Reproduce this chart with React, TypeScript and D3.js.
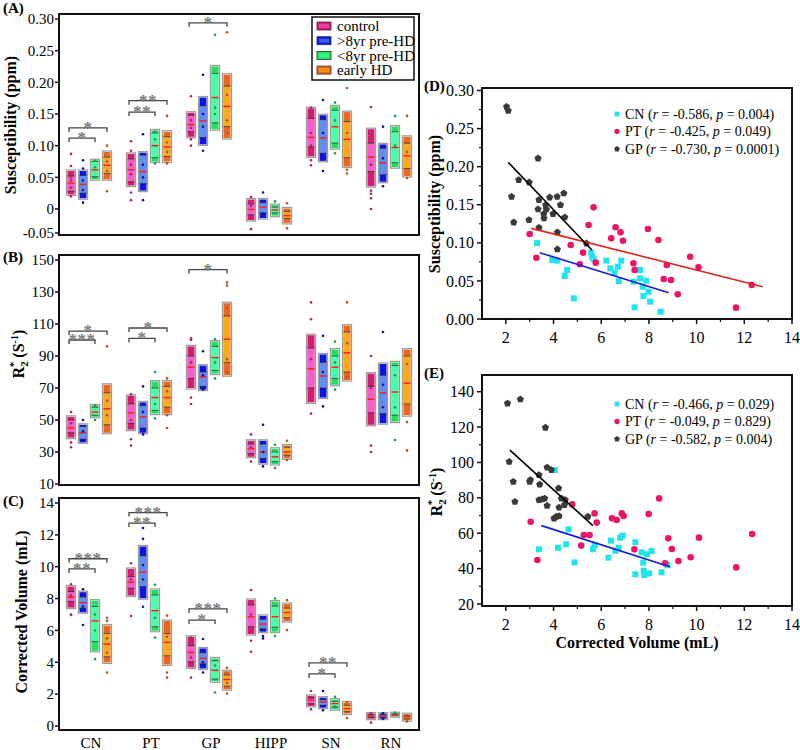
import React from "react";
import * as d3 from "d3";

// ---------- categories & groups ----------
const regions = ["CN", "PT", "GP", "HIPP", "SN", "RN"];
const groups = ["control", ">8yr pre-HD", "<8yr pre-HD", "early HD"];
const groupDark = ["#d81b72", "#0b14e0", "#1ee060", "#ee661c"];
const groupLight = ["#ff58cf", "#5e90f4", "#45ffaa", "#ffaa12"];
const groupDot = ["#a8285f", "#14148e", "#1f9e4c", "#b8541c"];

// ---------- tick values ----------
const suscTicks = [-0.05, 0, 0.05, 0.1, 0.15, 0.2, 0.25, 0.3];
const r2Ticks = [10, 30, 50, 70, 90, 110, 130, 150];
const volTicks = [0, 2, 4, 6, 8, 10, 12, 14];
const scatterXTicks = [2, 4, 6, 8, 10, 12, 14];
const dYTicks = [0, 0.05, 0.1, 0.15, 0.2, 0.25, 0.3];
const eYTicks = [20, 40, 60, 80, 100, 120, 140];

// ---------- box stats: [low, q1, median, q3, high] per region, per group ----------
const suscBoxes = [
  [[0.023, 0.028, 0.041, 0.052, 0.06], [0.017, 0.025, 0.039, 0.053, 0.06], [0.047, 0.051, 0.062, 0.075, 0.077], [0.047, 0.056, 0.069, 0.082, 0.09]],
  [[0.037, 0.043, 0.062, 0.079, 0.087], [0.029, 0.04, 0.059, 0.085, 0.089], [0.075, 0.081, 0.1, 0.12, 0.124], [0.075, 0.083, 0.098, 0.114, 0.122]],
  [[0.114, 0.122, 0.133, 0.148, 0.152], [0.102, 0.113, 0.139, 0.163, 0.176], [0.126, 0.136, 0.176, 0.214, 0.225], [0.112, 0.13, 0.162, 0.194, 0.212]],
  [[-0.023, -0.012, -0.001, 0.008, 0.015], [-0.019, -0.008, 0.003, 0.01, 0.015], [-0.014, -0.008, -0.002, 0.003, 0.006], [-0.029, -0.02, -0.014, -0.005, 0.001]],
  [[0.083, 0.098, 0.113, 0.143, 0.159], [0.076, 0.088, 0.112, 0.141, 0.148], [0.096, 0.104, 0.13, 0.156, 0.162], [0.067, 0.081, 0.11, 0.138, 0.153]],
  [[0.036, 0.059, 0.082, 0.104, 0.126], [0.043, 0.054, 0.073, 0.096, 0.102], [0.066, 0.073, 0.097, 0.122, 0.13], [0.052, 0.064, 0.084, 0.104, 0.114]],
];
const suscPoints = [
  [[0.087, 0.068, 0.02, 0.034, 0.045, 0.05], [0.077, 0.064, 0.01, 0.03, 0.045], [0.076, 0.05, 0.066], [0.1, 0.028, 0.06, 0.075]],
  [[0.107, 0.092, 0.026, 0.014, 0.055, 0.07], [0.118, 0.014, 0.05, 0.07], [0.072, 0.122, 0.11], [0.147, 0.072, 0.09, 0.105]],
  [[0.178, 0.11, 0.1, 0.14, 0.128], [0.212, 0.092, 0.15, 0.13], [0.275, 0.16, 0.15], [0.279, 0.14, 0.12, 0.18]],
  [[0.019, -0.042, 0.005], [0.026, -0.01], [0.012], [0.009, -0.04]],
  [[0.16, 0.153, 0.077, 0.069, 0.12, 0.1], [0.172, 0.06, 0.12], [0.168, 0.088, 0.14], [0.191, 0.062, 0.056, 0.12]],
  [[0.161, 0.029, 0.024, 0.017, 0.0, 0.07], [0.13, 0.036, 0.08], [0.147, 0.1], [0.147, 0.049, 0.09]],
];

const r2Boxes = [
  [[39, 42, 45, 50, 52], [36, 38, 42, 46, 47], [52, 53, 55, 58, 59], [42, 47, 57, 67, 72]],
  [[44, 48, 54.5, 60, 65], [42, 45, 52, 59, 61], [54, 56, 64, 70, 74], [54, 58, 64, 71, 74]],
  [[70, 76, 83, 90, 96], [69, 71, 77, 80, 84], [79, 81, 89, 96, 99], [78, 86, 100.5, 115, 123]],
  [[27, 29, 32, 35, 37], [23, 26, 30, 35, 37], [22.5, 24, 27, 30, 32], [26, 28, 30, 33, 34]],
  [[61, 70, 82, 95, 103], [64, 70, 77.5, 86, 91], [72, 76, 83, 90, 94], [75, 80, 92, 105, 109]],
  [[47, 54.5, 63, 71, 79], [48, 54, 67, 78, 85], [49, 53, 67.5, 84, 86], [53, 60, 73, 90, 94]],
];
const r2Points = [
  [[55, 33, 36, 48], [50, 37, 43], [50, 59], [96, 62, 53]],
  [[66, 38, 34, 50], [71, 41, 55], [80, 51, 60], [76, 45, 53, 68]],
  [[100, 101, 64, 60, 86], [93, 69, 78], [100.5, 76, 86], [136, 134, 120, 88, 80]],
  [[41, 24, 33], [47, 21, 30], [34.5, 20], [37, 25]],
  [[123.5, 113, 54, 88], [102.6, 58.5, 80], [99, 69, 86], [123.5, 77, 98]],
  [[90, 34, 30, 70], [105, 58, 72], [37.5, 58, 78], [48.7, 31, 85]],
];

const volBoxes = [
  [[7.43, 7.81, 8.08, 8.44, 8.75], [7.14, 7.4, 7.74, 8.1, 8.4], [4.72, 5.3, 6.6, 7.5, 7.87], [3.99, 4.34, 5.14, 5.81, 6.3]],
  [[8.19, 8.65, 9.03, 9.38, 9.86], [8.02, 8.75, 9.65, 10.68, 11.27], [5.98, 6.23, 7.24, 8.23, 8.54], [3.86, 4.41, 5.25, 5.8, 6.59]],
  [[3.67, 4.03, 4.62, 5.04, 5.6], [3.61, 3.9, 4.24, 4.6, 4.87], [2.81, 2.95, 3.5, 4.1, 4.24], [2.31, 2.5, 2.92, 3.2, 3.44]],
  [[5.77, 6.23, 6.86, 7.6, 7.91], [5.92, 6.1, 6.4, 6.7, 6.91], [5.92, 6.2, 6.86, 7.53, 7.81], [6.59, 6.8, 7.12, 7.4, 7.66]],
  [[1.26, 1.4, 1.62, 1.75, 1.89], [1.15, 1.3, 1.51, 1.65, 1.78], [1.05, 1.2, 1.41, 1.55, 1.66], [0.78, 0.9, 1.09, 1.3, 1.47]],
  [[0.46, 0.52, 0.61, 0.7, 0.78], [0.46, 0.52, 0.61, 0.7, 0.78], [0.61, 0.65, 0.71, 0.76, 0.8], [0.36, 0.45, 0.57, 0.65, 0.74]],
];
const volPoints = [
  [[8.9, 6.97, 7.0, 8.2], [8.58, 6.34, 7.5], [4.2, 7.0, 6.0], [6.8, 6.6, 3.36, 5.5, 4.6]],
  [[10.22, 6.91, 9.2], [12.43, 11.75, 7.49, 9.2, 10.1], [8.86, 5.56, 6.8], [6.93, 3.36, 3.04, 5.6]],
  [[5.55, 3.04, 4.3], [5.46, 3.36, 4.0], [2.1, 3.8], [3.65, 2.04, 2.7]],
  [[8.54, 5.35, 4.66, 7.0], [5.65, 5.5], [8.0, 5.65], [7.9, 6.02]],
  [[2.2, 1.05], [2.2, 0.99], [1.83, 1.2], [0.5, 1.5]],
  [[0.21, 0.8], [0.8, 0.45], [0.85], [0.29]],
];

// significance brackets: [regionIndex, toGroupIndex, yValue, stars] (from control)
const suscSig = [[0, 2, 0.112, "*"], [0, 3, 0.128, "*"], [1, 2, 0.153, "**"], [1, 3, 0.171, "**"], [2, 3, 0.294, "*"]];
const r2Sig = [[0, 2, 100, "***"], [0, 3, 105.6, "*"], [1, 2, 101, "*"], [1, 3, 107.5, "*"], [2, 3, 144, "*"]];
const volSig = [[0, 2, 9.86, "**"], [0, 3, 10.5, "***"], [1, 2, 12.74, "**"], [1, 3, 13.4, "***"], [2, 2, 6.65, "*"], [2, 3, 7.35, "***"], [4, 2, 3.27, "*"], [4, 3, 3.96, "**"]];

// ---------- scatter data ----------
const scatterNames = ["CN", "PT", "GP"];
const scatterColors = ["#1ee4ee", "#ec1467", "#3a3a3a"];
const fitColors = ["#1a1ad6", "#e2231a", "#000000"];
const dR = ["-0.586", "-0.425", "-0.730"];
const dP = ["0.004", "0.049", "0.0001"];
const eR = ["-0.466", "-0.049", "-0.582"];
const eP = ["0.029", "0.829", "0.004"];

const dCN = [[3.31, 0.0996], [3.95, 0.0775], [4.15, 0.0766], [4.47, 0.0565], [4.57, 0.0643], [4.85, 0.0271], [5.58, 0.0871], [5.62, 0.0818], [5.68, 0.0788], [6.21, 0.0766], [6.38, 0.0665], [6.56, 0.0608], [6.7, 0.0687], [6.84, 0.0766], [6.74, 0.0499], [7.36, 0.049], [7.4, 0.0153], [7.63, 0.0643], [7.63, 0.0534], [7.74, 0.0424], [7.77, 0.0302], [7.89, 0.0503], [7.98, 0.0359], [8.05, 0.0228], [8.49, 0.0096]];
const dPT = [[3.0, 0.1116], [3.28, 0.0805], [4.72, 0.0972], [5.1, 0.0718], [5.24, 0.0871], [5.47, 0.1234], [5.68, 0.1466], [5.77, 0.074], [6.42, 0.1059], [6.6, 0.1204], [6.81, 0.1138], [6.91, 0.1028], [7.35, 0.0731], [7.4, 0.0643], [7.96, 0.1182], [8.4, 0.1037], [8.62, 0.0525], [8.75, 0.0709], [8.93, 0.0512], [9.21, 0.0324], [9.73, 0.0818], [10.08, 0.0678], [11.65, 0.0149], [12.31, 0.0446]];
const dGP = [[2.03, 0.2788], [2.1, 0.2735], [2.54, 0.1825], [2.24, 0.1606], [2.33, 0.1269], [2.98, 0.1794], [2.97, 0.13], [3.35, 0.2109], [3.39, 0.1562], [3.35, 0.144], [3.39, 0.1199], [3.59, 0.1379], [3.6, 0.1322], [3.67, 0.1497], [3.7, 0.144], [3.84, 0.1597], [3.98, 0.1379], [4.15, 0.1606], [4.16, 0.1138], [4.16, 0.0915], [4.29, 0.1497], [4.43, 0.165], [4.47, 0.1335], [5.38, 0.0993]];
const dFits = [[3.42, 0.0871, 8.83, 0.0346], [3.07, 0.119, 12.77, 0.0424], [2.1, 0.2057, 5.61, 0.0906]];

const eCN = [[4.05, 95.7], [3.39, 50.9], [4.19, 51.8], [4.53, 53.7], [4.63, 62.2], [4.88, 43.5], [5.65, 51.1], [5.72, 53.0], [6.3, 46.2], [6.41, 55.8], [6.59, 50.1], [6.73, 51.8], [6.79, 57.5], [6.9, 58.6], [7.43, 54.9], [7.43, 36.8], [7.69, 49.2], [7.76, 43.4], [7.78, 38.8], [7.81, 36.4], [7.92, 48.1], [8.01, 37.3], [8.11, 50.0], [8.53, 37.9], [8.78, 42.0]];
const ePT = [[3.04, 66.5], [3.32, 44.9], [4.78, 76.3], [5.16, 53.0], [5.27, 59.0], [5.51, 59.0], [5.72, 71.2], [5.81, 66.0], [6.45, 68.4], [6.65, 67.5], [6.86, 71.2], [6.94, 69.7], [7.39, 50.9], [7.99, 70.9], [8.43, 79.7], [8.68, 43.0], [8.81, 57.1], [8.96, 51.1], [9.24, 44.3], [9.75, 46.4], [10.1, 57.5], [11.66, 40.7], [12.33, 59.6]];
const eGP = [[2.07, 133.4], [2.61, 135.7], [3.66, 119.7], [2.14, 100.4], [2.31, 89.1], [2.38, 77.8], [3.0, 89.1], [3.03, 90.1], [3.39, 92.9], [3.42, 87.6], [3.39, 78.8], [3.53, 79.2], [3.63, 79.7], [3.73, 75.6], [3.73, 97.2], [3.91, 95.7], [4.21, 85.4], [4.23, 74.6], [4.33, 79.7], [4.49, 78.8], [4.46, 76.0], [4.02, 68.4], [4.12, 69.4], [4.23, 69.7], [5.44, 69.4]];
const eFits = [[3.49, 64.3, 8.88, 41.1], null, [2.17, 107.0, 5.65, 64.3]];

// ---------- layout ----------
const FONT = "Liberation Serif";
const FL = 59;
const FR = 419;
const TS = { fontFamily: FONT } as const;

function R2Title({ x, y }: { x: number; y: number }) {
  return (
    <text transform={`translate(${x},${y}) rotate(-90)`} textAnchor="middle" style={TS} fontWeight="bold" fontSize={16}>
      R<tspan dy={4} fontSize={11}>2</tspan>
      <tspan dx={-6} dy={-11} fontSize={11}>*</tspan>
      <tspan dy={7}> (S</tspan>
      <tspan dy={-6} fontSize={10}>-1</tspan>
      <tspan dy={6}>)</tspan>
    </text>
  );
}

function BoxPanel(props: any) {
  const { y, top, bottom, ticks, fmt, boxes, points, sig, title, titleX, titleY, label, labelY, showCats } = props;
  const x = d3.scaleBand().domain(regions).range([FL, FR]);
  const off = d3.scalePoint().domain(groups).range([-18, 18]);
  const bw = 7;
  const cxOf = (ri: number, gi: number) => (x(regions[ri]) as number) + x.bandwidth() / 2 + (off(groups[gi]) as number);
  return (
    <g>
      {boxes.map((reg: number[][], ri: number) =>
        reg.map((b: number[], gi: number) => {
          const cx = cxOf(ri, gi);
          const [lo, q1, md, q3, hi] = b;
          return (
            <g key={`${ri}-${gi}`}>
              <rect x={cx - bw / 2 - 1} y={y(hi) - 1} width={bw + 2} height={y(lo) - y(hi) + 2} fill="none" stroke="#8a8a8a" strokeWidth={1.2} opacity={0.85} />
              <rect x={cx - bw / 2} y={y(hi)} width={bw} height={y(lo) - y(hi)} fill={groupDark[gi]} />
              <rect x={cx - bw / 2 + 0.5} y={y(q3)} width={bw - 1} height={y(q1) - y(q3)} fill={groupLight[gi]} />
              <line x1={cx - bw / 2} x2={cx + bw / 2} y1={y(q1)} y2={y(q1)} stroke="#222" strokeWidth={0.9} opacity={0.75} />
              <line x1={cx - bw / 2} x2={cx + bw / 2} y1={y(q3)} y2={y(q3)} stroke="#222" strokeWidth={0.9} opacity={0.75} />
              <line x1={cx - bw / 2} x2={cx + bw / 2} y1={y(md)} y2={y(md)} stroke="#ff1a1a" strokeWidth={1.4} />
              {points[ri][gi].map((v: number, k: number) => (
                <circle key={k} cx={cx} cy={y(v)} r={1.3} fill={groupDot[gi]} />
              ))}
            </g>
          );
        })
      )}
      {sig.map((s: any, i: number) => {
        const [ri, gi, v, stars] = s;
        const x1 = cxOf(ri, 0) - 2;
        const x2 = cxOf(ri, gi);
        const yy = y(v);
        return (
          <g key={i}>
            <path d={`M${x1},${yy + 4}V${yy}H${x2}V${yy + 4}`} fill="none" stroke="#444" strokeWidth={1.3} />
            <text x={(x1 + x2) / 2} y={yy + 5} textAnchor="middle" style={TS} fontSize={17} fontWeight="bold" fill="#7a7a7a" letterSpacing={0.5}>
              {stars}
            </text>
          </g>
        );
      })}
      <rect x={FL} y={top} width={FR - FL} height={bottom - top} fill="none" stroke="#111" strokeWidth={2} />
      {ticks.map((t: number) => (
        <g key={t}>
          <line x1={FL - 4} x2={FL} y1={y(t)} y2={y(t)} stroke="#111" strokeWidth={1.5} />
          <text x={FL - 5} y={y(t)} dy="0.35em" textAnchor="end" style={TS} fontSize={15}>
            {fmt(t)}
          </text>
        </g>
      ))}
      {typeof title === "string" ? (
        <text transform={`translate(${titleX},${titleY}) rotate(-90)`} textAnchor="middle" style={TS} fontWeight="bold" fontSize={16}>
          {title}
        </text>
      ) : (
        title
      )}
      <text x={3} y={labelY} style={TS} fontWeight="bold" fontSize={15}>
        {label}
      </text>
      {showCats &&
        regions.map((r) => (
          <text key={r} x={(x(r) as number) + x.bandwidth() / 2 + 2} y={743} dy="0.3em" textAnchor="middle" style={TS} fontSize={15}>
            {r}
          </text>
        ))}
    </g>
  );
}

function pentagon(cx: number, cy: number, r: number) {
  const pts = d3.range(5).map((i) => {
    const a = -Math.PI / 2 + (i * 2 * Math.PI) / 5;
    return [cx + r * Math.cos(a), cy + r * Math.sin(a)];
  });
  return "M" + pts.map((p) => p.join(",")).join("L") + "Z";
}

function Marker({ kind, x, y, s }: { kind: number; x: number; y: number; s: number }) {
  if (kind === 0) return <rect x={x - s} y={y - s} width={2 * s} height={2 * s} fill={scatterColors[0]} />;
  if (kind === 1) return <circle cx={x} cy={y} r={s * 1.1} fill={scatterColors[1]} />;
  return <path d={pentagon(x, y, s * 1.25)} fill={scatterColors[2]} />;
}

function ScatterPanel(props: any) {
  const { top, bottom, yDomain, yRange, yTicks, yMinor, yFmt, series, fits, rs, ps, label, labelY, legendY, title, xTitle } = props;
  const left = 482;
  const right = 792;
  const x = d3.scaleLinear().domain([1, 14]).range([left, right]);
  const y = d3.scaleLinear().domain(yDomain).range(yRange);
  const xMinor = [3, 5, 7, 9, 11, 13];
  return (
    <g>
      {series.map((pts: number[][], si: number) =>
        pts.map((p: number[], k: number) => <Marker key={`${si}-${k}`} kind={si} x={x(p[0])} y={y(p[1])} s={3} />)
      )}
      {fits.map((f: number[] | null, i: number) =>
        f ? <line key={i} x1={x(f[0])} y1={y(f[1])} x2={x(f[2])} y2={y(f[3])} stroke={fitColors[i]} strokeWidth={1.6} /> : null
      )}
      <rect x={left} y={top} width={right - left} height={bottom - top} fill="none" stroke="#111" strokeWidth={2} />
      {scatterXTicks.map((t) => (
        <g key={t}>
          <line x1={x(t)} x2={x(t)} y1={bottom} y2={bottom + 5} stroke="#111" strokeWidth={1.5} />
          <text x={x(t)} y={bottom + 18} dy="0.35em" textAnchor="middle" style={TS} fontSize={16}>
            {t}
          </text>
        </g>
      ))}
      {xMinor.map((t) => (
        <line key={t} x1={x(t)} x2={x(t)} y1={bottom} y2={bottom + 3} stroke="#111" strokeWidth={1.2} />
      ))}
      {yTicks.map((t: number) => (
        <g key={t}>
          <line x1={left - 5} x2={left} y1={y(t)} y2={y(t)} stroke="#111" strokeWidth={1.5} />
          <text x={left - 8} y={y(t)} dy="0.35em" textAnchor="end" style={TS} fontSize={16}>
            {yFmt(t)}
          </text>
        </g>
      ))}
      {yMinor.map((t: number) => (
        <line key={t} x1={left - 3} x2={left} y1={y(t)} y2={y(t)} stroke="#111" strokeWidth={1.2} />
      ))}
      {scatterNames.map((n, i) => (
        <g key={n}>
          <Marker kind={i} x={617} y={legendY + i * 17.5} s={2.4} />
          <text x={625} y={legendY + i * 17.5} dy="0.35em" style={TS} fontSize={14}>
            {n} (<tspan fontStyle="italic">r</tspan> = {rs[i]}, <tspan fontStyle="italic">p</tspan> = {ps[i]})
          </text>
        </g>
      ))}
      <text x={424} y={labelY} style={TS} fontWeight="bold" fontSize={15}>
        {label}
      </text>
      {title}
      {xTitle && (
        <text x={(left + right) / 2} y={642} dy="0.35em" textAnchor="middle" style={TS} fontWeight="bold" fontSize={16}>
          {xTitle}
        </text>
      )}
    </g>
  );
}

export default function App() {
  const yA = d3.scaleLinear().domain([-0.05, 0, 0.3]).range([233, 209, 19]);
  const yB = d3.scaleLinear().domain([10, 150]).range([484, 260]);
  const yC = d3.scaleLinear().domain([0, 14]).range([726, 503]);
  const fmtA = (v: number) => (v === 0 ? "0" : v.toFixed(2));
  const fmtInt = (v: number) => String(v);
  return (
    <svg width={800} height={750} style={{ position: "absolute", left: 0, top: 0, background: "#fff", fontFamily: FONT }}>
      <rect width={800} height={750} fill="#fff" />
      <BoxPanel y={yA} top={14} bottom={235} ticks={suscTicks} fmt={fmtA} boxes={suscBoxes} points={suscPoints} sig={suscSig}
        title="Susceptibility (ppm)" titleX={16} titleY={125} label="(A)" labelY={13} showCats={false} />
      <BoxPanel y={yB} top={255} bottom={485} ticks={r2Ticks} fmt={fmtInt} boxes={r2Boxes} points={r2Points} sig={r2Sig}
        title={<R2Title x={24} y={354} />} label="(B)" labelY={262} showCats={false} />
      <BoxPanel y={yC} top={498} bottom={730} ticks={volTicks} fmt={fmtInt} boxes={volBoxes} points={volPoints} sig={volSig}
        title="Corrected Volume (mL)" titleX={27} titleY={612} label="(C)" labelY={506} showCats={true} />
      {/* legend for box plots */}
      <g>
        <rect x={312} y={17} width={102} height={63} fill="#fff" stroke="#111" strokeWidth={1.5} />
        {groups.map((g, i) => (
          <g key={g}>
            <rect x={317} y={22 + i * 14.7} width={14} height={8} fill={groupDark[i]} stroke="#333" strokeWidth={0.8} />
            <rect x={319} y={24 + i * 14.7} width={10} height={4} fill={groupLight[i]} opacity={0.6} />
            <text x={337} y={26 + i * 14.7} dy="0.35em" style={TS} fontSize={15}>
              {g}
            </text>
          </g>
        ))}
      </g>
      <ScatterPanel top={88} bottom={319} yDomain={[0, 0.3]} yRange={[319, 90.5]} yTicks={dYTicks}
        yMinor={[0.025, 0.075, 0.125, 0.175, 0.225, 0.275]} yFmt={(v: number) => v.toFixed(2)}
        series={[dCN, dPT, dGP]} fits={dFits} rs={dR} ps={dP} label="(D)" labelY={91} legendY={114}
        title={<text transform="translate(440,204) rotate(-90)" textAnchor="middle" style={TS} fontWeight="bold" fontSize={16}>Susceptibility (ppm)</text>} />
      <ScatterPanel top={375} bottom={606} yDomain={[20, 140]} yRange={[604, 391.7]} yTicks={eYTicks}
        yMinor={[30, 50, 70, 90, 110, 130]} yFmt={(v: number) => String(v)}
        series={[eCN, ePT, eGP]} fits={eFits} rs={eR} ps={eP} label="(E)" labelY={378} legendY={404}
        title={<R2Title x={442} y={492} />} xTitle="Corrected Volume (mL)" />
    </svg>
  );
}
